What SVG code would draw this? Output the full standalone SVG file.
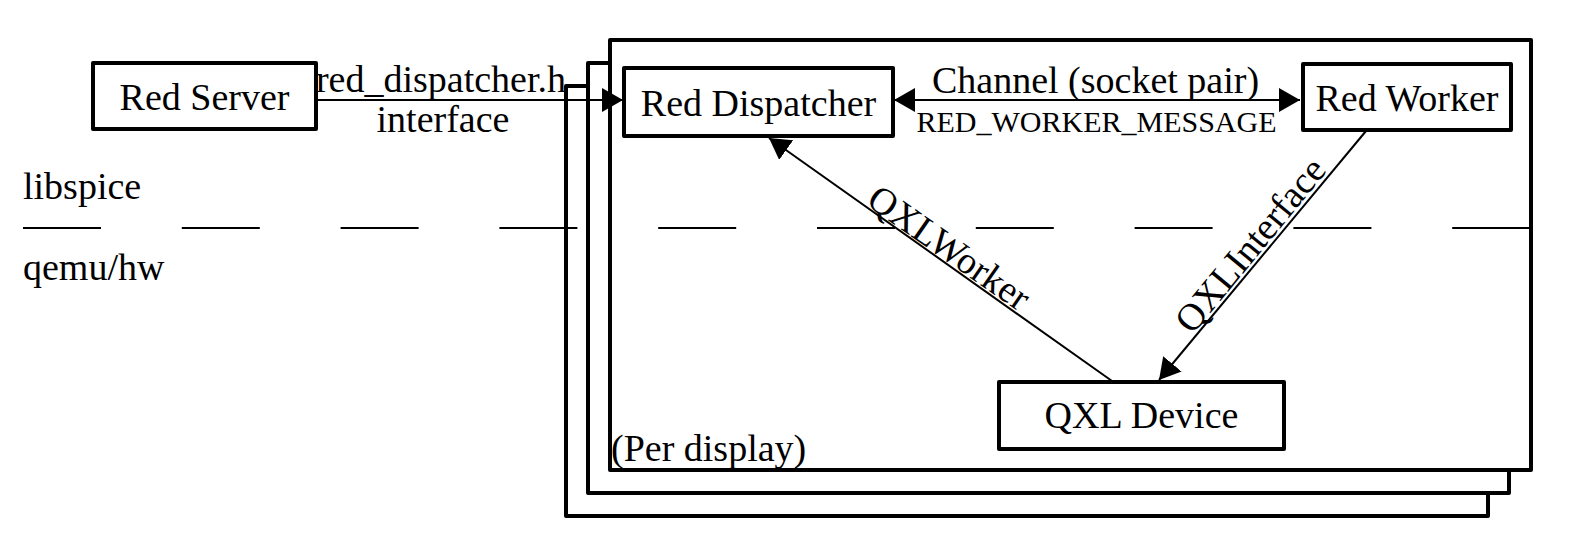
<svg xmlns="http://www.w3.org/2000/svg" width="1580" height="558" viewBox="0 0 1580 558">
<defs>
<style>
.frame{fill:#fff;stroke:#000;stroke-width:4;stroke-linejoin:round}
.box{fill:#fff;stroke:#000;stroke-width:4;stroke-linejoin:round}
.lbl{font-family:"Liberation Serif","Times New Roman",serif;font-size:38px;fill:#000}
.small{font-family:"Liberation Serif","Times New Roman",serif;font-size:30px;fill:#000}
.conn{stroke:#000;stroke-width:2;fill:none}
.dash{stroke:#000;stroke-width:2;fill:none;stroke-dasharray:78 80.8}
</style>
<marker id="arr" viewBox="0 0 21 24" refX="21" refY="12" markerWidth="21" markerHeight="24" markerUnits="userSpaceOnUse" orient="auto-start-reverse">
<path d="M0,0 L21,12 L0,24 z" fill="#000"/>
</marker>
</defs>
<rect width="1580" height="558" fill="#fff"/>
<g id="per-display">
<rect class="frame" x="566" y="86" width="922" height="430"/>
<rect class="frame" x="588" y="63" width="921" height="430"/>
<rect class="frame" x="610" y="40" width="921" height="430"/>
<text class="lbl" x="611" y="461">(Per display)</text>
</g>
<g id="layer-divider">
<line class="dash" x1="23" y1="228" x2="1531" y2="228"/>
<text class="lbl" x="23" y="199">libspice</text>
<text class="lbl" x="23" y="280">qemu/hw</text>
</g>
<g id="red-server">
<rect class="box" x="93" y="63" width="223" height="66"/>
<text class="lbl" x="204.5" y="110" text-anchor="middle">Red Server</text>
</g>
<g id="red-dispatcher">
<rect class="box" x="624" y="68" width="269" height="68"/>
<text class="lbl" x="758.5" y="116" text-anchor="middle">Red Dispatcher</text>
</g>
<g id="red-worker">
<rect class="box" x="1303" y="64" width="208" height="66"/>
<text class="lbl" x="1407" y="111" text-anchor="middle">Red Worker</text>
</g>
<g id="qxl-device">
<rect class="box" x="999" y="382" width="285" height="67"/>
<text class="lbl" x="1141.5" y="428" text-anchor="middle">QXL Device</text>
</g>
<g id="connectors">
<line class="conn" x1="316" y1="100" x2="623" y2="100" marker-end="url(#arr)"/>
<text class="lbl" x="441" y="92" text-anchor="middle">red_dispatcher.h</text>
<text class="lbl" x="443" y="132" text-anchor="middle">interface</text>
<line class="conn" x1="894" y1="100" x2="1300" y2="100" marker-start="url(#arr)" marker-end="url(#arr)"/>
<text class="lbl" x="1095.5" y="93" text-anchor="middle">Channel (socket pair)</text>
<text class="small" x="1096.5" y="132" text-anchor="middle">RED_WORKER_MESSAGE</text>
<line class="conn" x1="1112" y1="381" x2="769" y2="138" marker-end="url(#arr)"/>
<text class="lbl" x="942" y="258" text-anchor="middle" transform="rotate(35 942 258)">QXLWorker</text>
<line class="conn" x1="1366" y1="131" x2="1159" y2="380" marker-end="url(#arr)"/>
<text class="lbl" x="1260" y="253" text-anchor="middle" transform="rotate(-50.5 1260 253)">QXLInterface</text>
</g>
</svg>
